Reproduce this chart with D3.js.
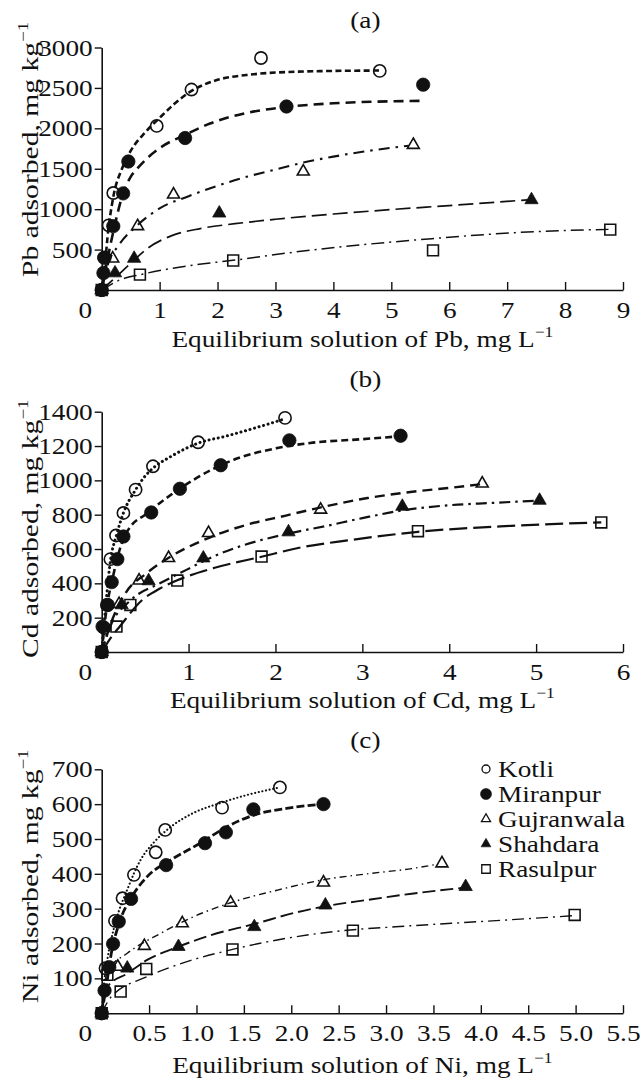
<!DOCTYPE html>
<html><head><meta charset="utf-8">
<script src="https://cdn.jsdelivr.net/npm/d3@7"></script>
<style>
body{margin:0;background:#fff}
svg{display:block}
text{font-family:"Liberation Serif","Times New Roman",serif;fill:#111}
</style>
</head><body>
<svg id="c" width="641" height="1081"></svg>
<script>
// ---------- data ----------
const sites = ["Kotli","Miranpur","Gujranwala","Shahdara","Rasulpur"];

// Panel (a) Pb
const pbXTicks = [0,1,2,3,4,5,6,7,8,9];
const pbYTicks = [500,1000,1500,2000,2500,3000];
const pbKotli      = [[0,0],[0.04,400],[0.12,800],[0.2,1200],[0.95,2030],[1.55,2480],[2.75,2870],[4.8,2710]];
const pbMiranpur   = [[0,0],[0.03,210],[0.05,400],[0.2,790],[0.37,1195],[0.46,1590],[1.44,1880],[3.19,2270],[5.55,2540]];
const pbGujranwala = [[0,0],[0.19,390],[0.62,790],[1.24,1180],[3.48,1465],[5.38,1795]];
const pbShahdara   = [[0,0],[0.23,210],[0.56,390],[2.03,950],[7.42,1115]];
const pbRasulpur   = [[0,0],[0.66,190],[2.27,365],[5.72,490],[8.78,747]];
const pbKotliFit      = [[0,0],[0.05,250],[0.1,650],[0.2,1150],[0.35,1500],[0.5,1720],[0.75,1950],[1.0,2130],[1.25,2300],[1.5,2440],[2.0,2600],[2.5,2660],[3.0,2690],[4.0,2710],[4.8,2715]];
const pbMiranpurFit   = [[0,0],[0.1,380],[0.2,720],[0.35,1150],[0.5,1400],[0.6,1490],[0.8,1640],[1.0,1755],[1.44,1920],[1.87,2060],[2.5,2190],[3.2,2265],[4.0,2310],[5.55,2340]];
const pbGujranwalaFit = [[0,0],[0.1,300],[0.3,560],[0.6,790],[1.0,1010],[1.5,1160],[2.0,1290],[2.5,1400],[3.0,1490],[3.5,1580],[4.0,1650],[4.5,1710],[5.3,1785]];
const pbShahdaraFit   = [[0,0],[0.2,130],[0.5,330],[0.8,520],[1.2,670],[1.7,760],[2.3,820],[3.0,875],[4.0,940],[5.0,995],[6.0,1045],[7.35,1115]];
const pbRasulpurFit   = [[0,0],[0.3,120],[0.7,195],[1.5,300],[2.3,370],[3.4,475],[4.5,560],[5.7,635],[7.2,712],[8.75,750]];

// Panel (b) Cd
const cdXTicks = [0,1,2,3,4,5,6];
const cdYTicks = [200,400,600,800,1000,1200,1400];
const cdKotli      = [[0,0],[0.03,140],[0.06,274],[0.1,541],[0.165,679],[0.25,810],[0.39,946],[0.59,1082],[1.11,1222],[2.11,1364]];
const cdMiranpur   = [[0,0],[0.01,148],[0.07,274],[0.115,407],[0.18,541],[0.25,673],[0.57,813],[0.9,951],[1.37,1088],[2.16,1233],[3.44,1260]];
const cdGujranwala = [[0,0],[0.2,280],[0.43,416],[0.77,547],[1.23,693],[2.52,829],[4.38,981]];
const cdShahdara   = [[0,0],[0.23,274],[0.54,414],[1.17,547],[2.15,699],[3.46,848],[5.04,883]];
const cdRasulpur   = [[0,0],[0.17,148],[0.33,274],[0.87,416],[1.84,556],[3.64,704],[5.75,755]];
const cdKotliFit      = [[0,0],[0.05,290],[0.1,530],[0.17,680],[0.25,810],[0.39,945],[0.5,1025],[0.6,1075],[0.8,1140],[1.1,1215],[1.45,1260],[1.85,1318],[2.12,1360]];
const cdMiranpurFit   = [[0,0],[0.05,230],[0.13,440],[0.25,660],[0.33,730],[0.5,800],[0.67,868],[1.06,1004],[1.52,1120],[2.02,1188],[2.4,1218],[3.0,1240],[3.44,1257]];
const cdGujranwalaFit = [[0,0],[0.1,160],[0.27,340],[0.52,460],[0.79,555],[1.18,654],[1.6,731],[2.12,795],[2.5,840],[3.06,897],[3.6,935],[4.0,956],[4.38,978]];
const cdShahdaraFit   = [[0,0],[0.1,150],[0.33,300],[0.67,400],[0.98,480],[1.3,560],[1.65,625],[2.15,690],[2.59,735],[3.0,780],[3.46,825],[4.0,855],[4.47,868],[5.04,882]];
const cdRasulpurFit   = [[0,0],[0.1,80],[0.21,150],[0.46,300],[0.67,370],[0.87,418],[1.29,489],[1.84,555],[2.3,610],[2.83,650],[3.64,700],[4.71,735],[5.75,755]];

// Panel (c) Ni
const niXTicks = [0,0.5,1.0,1.5,2.0,2.5,3.0,3.5,4.0,4.5,5.0,5.5];
const niYTicks = [100,200,300,400,500,600,700];
const niKotli      = [[0,0],[0.04,129],[0.14,265],[0.22,330],[0.34,397],[0.57,462],[0.67,526],[1.27,590],[1.88,648]];
const niMiranpur   = [[0,0],[0.03,65],[0.08,132],[0.12,199],[0.18,263],[0.31,328],[0.68,425],[1.09,488],[1.31,519],[1.6,585],[2.34,600]];
const niGujranwala = [[0,0],[0.17,133],[0.45,193],[0.85,258],[1.36,317],[2.34,375],[3.59,430]];
const niShahdara   = [[0,0],[0.27,129],[0.81,191],[1.61,248],[2.36,310],[3.84,363]];
const niRasulpur   = [[0,0],[0.06,110],[0.2,62],[0.47,127],[1.38,183],[2.65,237],[4.99,282]];
const niKotliFit      = [[0,0],[0.03,100],[0.06,155],[0.15,265],[0.27,355],[0.41,440],[0.55,490],[0.73,535],[0.97,575],[1.25,603],[1.53,626],[1.88,648]];
const niMiranpurFit   = [[0,0],[0.05,80],[0.1,170],[0.18,255],[0.32,335],[0.48,392],[0.73,440],[1.04,488],[1.32,535],[1.6,568],[1.95,588],[2.34,600]];
const niGujranwalaFit = [[0,0],[0.06,120],[0.27,172],[0.62,229],[0.97,277],[1.36,317],[1.85,353],[2.34,383],[2.8,400],[3.27,415],[3.55,428]];
const niShahdaraFit   = [[0,0],[0.06,76],[0.27,114],[0.48,153],[0.81,191],[1.15,224],[1.61,256],[2.02,287],[2.36,307],[2.8,325],[3.27,343],[3.82,360]];
const niRasulpurFit   = [[0,0],[0.1,47],[0.48,105],[0.9,148],[1.38,183],[1.95,215],[2.51,236],[3.1,248],[3.69,258],[4.3,268],[4.99,280]];

// ---------- layout / style ----------
const W = 641, H = 1081;
const X0 = 101.7, X1 = 623;
const FS = 23.5, SX = 1.16, SXY = 1.26;

const panels = [
  {title:"(a)", titleY:28, metal:"Pb", xMax:9, xTicks:pbXTicks, xFmt:d3.format("d"),
   yMax:3000, yTicks:pbYTicks, yTop:47.5, yBot:290, yTitleBottom:277, xTitleY:347,
   data:[pbKotli,pbMiranpur,pbGujranwala,pbShahdara,pbRasulpur],
   fits:[pbKotliFit,pbMiranpurFit,pbGujranwalaFit,pbShahdaraFit,pbRasulpurFit],
   dash:[["6,3.4",2.6,"butt"],["10,6",2.6,"butt"],["11,6,2.5,6",2.1,"butt"],["15,6",1.7,"butt"],["13,5,2,5",1.5,"butt"]]},
  {title:"(b)", titleY:387, metal:"Cd", xMax:6, xTicks:cdXTicks, xFmt:d3.format("d"),
   yMax:1400, yTop:411.7, yTicks:cdYTicks, yBot:652, yTitleBottom:658, xTitleY:708,
   data:[cdKotli,cdMiranpur,cdGujranwala,cdShahdara,cdRasulpur],
   fits:[cdKotliFit,cdMiranpurFit,cdGujranwalaFit,cdShahdaraFit,cdRasulpurFit],
   dash:[["0.1,4.6",3.0,"round"],["7,4",2.6,"butt"],["10,6",2.4,"butt"],["11,5,2.5,5",2.2,"butt"],["18,6",2.2,"butt"]]},
  {title:"(c)", titleY:748, metal:"Ni", xMax:5.5, xTicks:niXTicks, xFmt:d => d===0 ? "0" : d3.format(".1f")(d),
   yMax:700, yTop:769.3, yTicks:niYTicks, yBot:1013.2, yTitleBottom:1003, xTitleY:1073,
   data:[niKotli,niMiranpur,niGujranwala,niShahdara,niRasulpur],
   fits:[niKotliFit,niMiranpurFit,niGujranwalaFit,niShahdaraFit,niRasulpurFit],
   dash:[["0.1,3.6",2.1,"round"],["8,3.2",2.8,"butt"],["7,4,1.5,4",1.4,"butt"],["13,5",1.9,"butt"],["12,5,2,5",1.4,"butt"]]}
];

// marker definitions: [symbol, filled, size(area)]
const markers = [
  [d3.symbolCircle, false, 118],
  [d3.symbolCircle, true, 140],
  [d3.symbolTriangle, false, 62],
  [d3.symbolTriangle, true, 76],
  [d3.symbolSquare, false, 118]
];
const legendMarkers = [
  [d3.symbolCircle, false, 50],
  [d3.symbolCircle, true, 95],
  [d3.symbolTriangle, false, 36],
  [d3.symbolTriangle, true, 42],
  [d3.symbolSquare, false, 72]
];

const svg = d3.select("#c");
svg.append("rect").attr("width", W).attr("height", H).attr("fill", "#fff");

function stretchText(sel, k){
  k = k || SX;
  sel.each(function(){
    const t = d3.select(this);
    const x = +(t.attr("x") || 0);
    t.attr("x", x / k);
    const tr = t.attr("transform") || "";
    t.attr("transform", tr + ` scale(${k},1)`);
  });
}

function supText(g, main, sup){
  const t = g.append("text").attr("font-size", FS);
  t.append("tspan").text(main);
  t.append("tspan").attr("font-size", 15).attr("dy", -10).text(sup);
  return t;
}

panels.forEach(p => {
  const x = d3.scaleLinear().domain([0, p.xMax]).range([X0, X1]);
  const y = d3.scaleLinear().domain([0, p.yMax]).range([p.yBot, p.yTop]);
  const g = svg.append("g");

  const xa = g.append("g").attr("transform", `translate(0,${p.yBot})`)
    .call(d3.axisBottom(x).tickValues(p.xTicks).tickFormat(p.xFmt).tickSize(-8).tickSizeOuter(0).tickPadding(11));
  const ya = g.append("g").attr("transform", `translate(${X0},0)`)
    .call(d3.axisLeft(y).tickValues(p.yTicks).tickFormat(d3.format("d")).tickSize(7).tickSizeOuter(0).tickPadding(2));
  [xa, ya].forEach(a => {
    a.selectAll("path.domain").attr("stroke", "#111").attr("stroke-width", 1.6);
    a.selectAll(".tick line").attr("stroke", "#111").attr("stroke-width", 1.4);
    a.selectAll("text").attr("font-size", FS).attr("font-family", '"Liberation Serif","Times New Roman",serif').attr("fill", "#111");
  });
  xa.selectAll(".tick").filter(d => d === 0).select("text").attr("x", -17);
  xa.selectAll(".tick").filter(d => d === 0).select("line").remove();
  stretchText(xa.selectAll("text"));
  stretchText(ya.selectAll("text"));

  const line = d3.line().x(d => x(d[0])).y(d => y(d[1])).curve(d3.curveMonotoneX);
  p.fits.forEach((f, i) => {
    g.append("path").attr("d", line(f)).attr("fill", "none").attr("stroke", "#111")
      .attr("stroke-width", p.dash[i][1]).attr("stroke-dasharray", p.dash[i][0])
      .attr("stroke-linecap", p.dash[i][2]);
  });

  p.data.forEach((s, i) => {
    const m = markers[i];
    g.append("g").selectAll("path").data(s).join("path")
      .attr("transform", d => `translate(${x(d[0])},${y(d[1])})`)
      .attr("d", d3.symbol().type(m[0]).size(m[2]))
      .attr("fill", m[1] ? "#111" : "none")
      .attr("stroke", "#111").attr("stroke-width", m[1] ? 0.8 : 1.6);
  });

  const tt = g.append("g").attr("transform", `translate(${(X0 + X1) / 2 + 3},${p.titleY})`);
  tt.append("text").attr("font-size", FS).attr("text-anchor", "middle").text(p.title);
  stretchText(tt.selectAll("text"));

  const xt = g.append("g").attr("transform", `translate(${(X0 + X1) / 2},${p.xTitleY})`);
  supText(xt, `Equilibrium solution of ${p.metal}, mg L`, "−1").attr("text-anchor", "middle");
  stretchText(xt.selectAll("text"));

  const yt = g.append("g").attr("transform", `translate(38,${p.yTitleBottom}) rotate(-90)`);
  supText(yt, `${p.metal} adsorbed, mg kg`, "−1").attr("text-anchor", "start");
  stretchText(yt.selectAll("text"), SXY);
});

// legend (panel c)
const lg = svg.append("g");
sites.forEach((s, i) => {
  const yy = 769 + i * 25;
  const m = legendMarkers[i];
  lg.append("path").attr("transform", `translate(486,${yy})`)
    .attr("d", d3.symbol().type(m[0]).size(m[2]))
    .attr("fill", m[1] ? "#111" : "none").attr("stroke", "#111").attr("stroke-width", m[1] ? 0.6 : 1.3);
  const tg = lg.append("g").attr("transform", `translate(498,${yy + 8})`);
  tg.append("text").attr("font-size", FS).text(s);
  stretchText(tg.selectAll("text"));
});
</script>
</body></html>
